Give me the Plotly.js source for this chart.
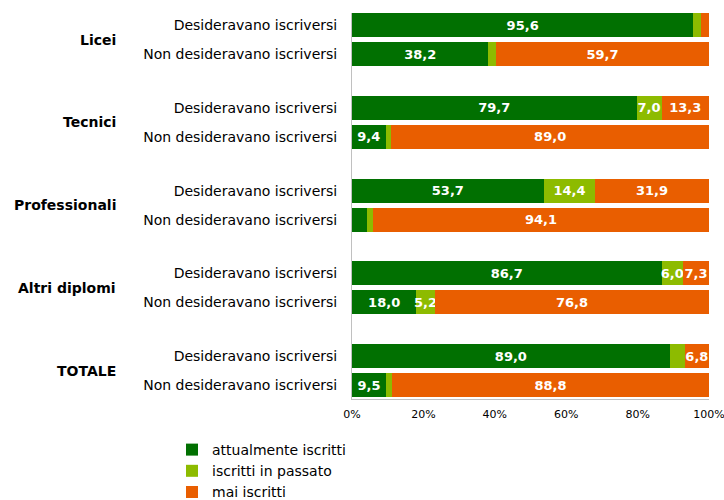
<!DOCTYPE html>
<html>
<head>
<meta charset="utf-8">
<script src="https://cdn.plot.ly/plotly-3.0.1.min.js"></script>
<style>html,body{margin:0;padding:0;background:#fff;}#chart{width:724px;height:500px;}</style>
</head>
<body>
<div id="chart"></div>
<script>
// ---- data ----
const groups = ['Licei', 'Tecnici', 'Professionali', 'Altri diplomi', 'TOTALE'];
const subs = ['Desideravano iscriversi', 'Non desideravano iscriversi'];
const seriesNames = ['attualmente iscritti', 'iscritti in passato', 'mai iscritti'];
// rows: group x sub, in order (Licei-Des, Licei-Non, Tecnici-Des, ...)
const attuali = [95.6, 38.2, 79.7, 9.4, 53.7, 4.2, 86.7, 18.0, 89.0, 9.5];
const passato = [2.2, 2.1, 7.0, 1.6, 14.4, 1.7, 6.0, 5.2, 4.2, 1.7];
const mai = [2.2, 59.7, 13.3, 89.0, 31.9, 94.1, 7.3, 76.8, 6.8, 88.8];
const xTicks = [0, 20, 40, 60, 80, 100];

// ---- layout helpers ----
const groupStep = 2.86;
const rowPos = [];
const rowLabels = [];
groups.forEach((g, gi) => subs.forEach((s, si) => { rowPos.push(gi * groupStep + si); rowLabels.push(s); }));
const fmt = v => v >= 5 ? v.toFixed(1).replace('.', ',') : '';
const colors = ['#017001', '#8dbb00', '#e95e00'];
const values = [attuali, passato, mai];

const traces = values.map((vals, i) => ({
  type: 'bar',
  orientation: 'h',
  name: seriesNames[i],
  x: vals,
  y: rowPos,
  width: 0.83,
  marker: {color: colors[i], line: {width: 0}},
  text: vals.map(fmt),
  textposition: 'inside',
  insidetextanchor: 'middle',
  textangle: 0,
  insidetextfont: {family: 'DejaVu Sans', size: 13, color: '#ffffff', weight: 'bold'},
  hoverinfo: 'skip'
}));

const annotations = groups.map((g, gi) => ({
  text: '<b>' + g + '</b>',
  xref: 'paper', yref: 'y',
  x: (118 - 352) / 357, y: gi * groupStep + 0.5,
  xanchor: 'right', yanchor: 'middle',
  showarrow: false,
  font: {family: 'DejaVu Sans', size: 14, color: '#000000'}
}));

const layout = {
  width: 724, height: 500,
  margin: {l: 352, r: 15, t: 13, b: 101, pad: 0, autoexpand: false},
  paper_bgcolor: '#ffffff', plot_bgcolor: '#ffffff',
  barmode: 'stack',
  bargap: 0,
  showlegend: true,
  uniformtext: {mode: 'show', minsize: 13},
  font: {family: 'DejaVu Sans', size: 12, color: '#000000'},
  xaxis: {
    range: [0, 100], tickvals: xTicks, ticktext: xTicks.map(v => v + '%'),
    showgrid: false, zeroline: false, showline: true, linecolor: '#c0c0c0', linewidth: 1,
    ticks: 'outside', ticklen: 5, tickcolor: 'rgba(0,0,0,0)', ticklabeloverflow: 'allow',
    tickfont: {family: 'DejaVu Sans', size: 11, color: '#000000'}, fixedrange: true
  },
  yaxis: {
    range: [4 * groupStep + 1 + 0.48, -0.42],
    tickvals: rowPos, ticktext: rowLabels,
    showgrid: false, zeroline: false, showline: true, linecolor: '#c0c0c0', linewidth: 1,
    ticks: '', ticklabelstandoff: 11,
    tickfont: {family: 'DejaVu Sans', size: 14, color: '#000000'}, fixedrange: true
  },
  legend: {
    orientation: 'v', x: (172 - 352) / 357, xanchor: 'left', y: -0.0907, yanchor: 'top',
    traceorder: 'normal', font: {family: 'DejaVu Sans', size: 14, color: '#000000'},
    itemclick: false, itemdoubleclick: false, tracegroupgap: 0
  },
  annotations: annotations
};

Plotly.newPlot('chart', traces, layout, {displayModeBar: false, staticPlot: true});
</script>
</body>
</html>
